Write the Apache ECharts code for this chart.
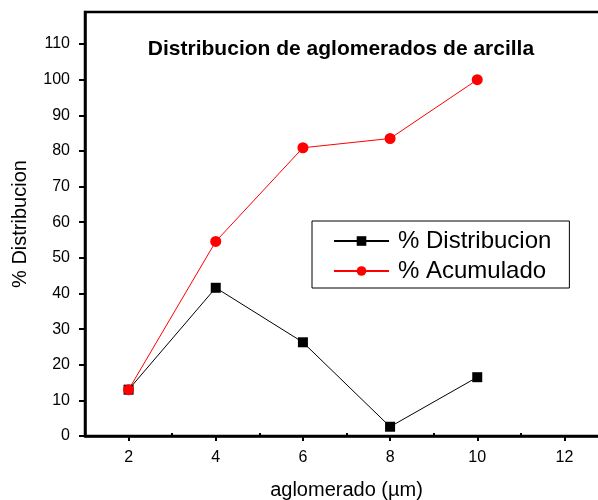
<!DOCTYPE html>
<html>
<head>
<meta charset="utf-8">
<script src="https://cdn.jsdelivr.net/npm/echarts@6/dist/echarts.min.js"></script>
<style>
  html, body { margin: 0; padding: 0; background: #fff; }
  #chart { width: 598px; height: 500px; }
</style>
</head>
<body>
<div id="chart"></div>
<script>
// Agglomerate size (µm) and the two measured series
const sizes = [2, 4, 6, 8, 10];
const distribucion = [13, 41.6, 26.3, 2.6, 16.5];
const acumulado = [13, 54.6, 80.9, 83.5, 100];

// Tick positions for both axes
const xMajorTicks = [2, 4, 6, 8, 10, 12];
const xMinorTicks = [3, 5, 7, 9, 11];
const yMajorTicks = [0, 10, 20, 30, 40, 50, 60, 70, 80, 90, 100, 110];
const yMinorTicks = [5, 15, 25, 35, 45, 55, 65, 75, 85, 95, 105, 115];

const FONT = 'Liberation Sans, Arial, sans-serif';
const chart = echarts.init(document.getElementById('chart'), null, { renderer: 'canvas' });

const baseX = {
  type: 'value', min: 1, max: 13, gridIndex: 0,
  splitLine: { show: false }
};
const baseY = {
  type: 'value', min: 0, max: 119, gridIndex: 0,
  splitLine: { show: false }
};

chart.setOption({
  animation: false,
  backgroundColor: '#fff',
  title: {
    text: 'Distribucion de aglomerados de arcilla',
    left: 336, top: 34, textAlign: 'center',
    textStyle: { fontFamily: FONT, fontSize: 21, fontWeight: 'bold', color: '#000' }
  },
  grid: {
    left: 85, top: 12, right: -10, bottom: 64,
    outerBoundsMode: 'none',
    containLabel: false,
    show: true, borderColor: '#000', borderWidth: 2.5, backgroundColor: 'transparent'
  },
  legend: {
    orient: 'vertical', left: 312, top: 221,
    borderColor: '#000', borderWidth: 1,
    padding: [8, 18, 5, 21],
    itemWidth: 55, itemHeight: 12, itemGap: 6,
    textStyle: { fontFamily: FONT, fontSize: 24, color: '#000', padding: [0, 0, 0, 4] },
    data: ['% Distribucion', '% Acumulado']
  },
  xAxis: [
    Object.assign({}, baseX, {
      name: 'aglomerado (µm)', nameLocation: 'middle', nameGap: 44,
      nameTextStyle: { fontFamily: FONT, fontSize: 20, color: '#000' },
      axisLine: { show: true, lineStyle: { color: '#000', width: 2.5 } },
      axisTick: { show: true, inside: false, length: 5, customValues: xMajorTicks,
                  lineStyle: { color: '#000', width: 2 } },
      axisLabel: { customValues: xMajorTicks, margin: 14,
                   fontFamily: FONT, fontSize: 16, color: '#000' }
    }),
    Object.assign({}, baseX, {
      axisLine: { show: false },
      axisTick: { show: true, inside: false, length: 3, customValues: xMinorTicks,
                  lineStyle: { color: '#000', width: 2 } },
      axisLabel: { show: false }
    })
  ],
  yAxis: [
    Object.assign({}, baseY, {
      name: '% Distribucion', nameLocation: 'middle', nameGap: 55, nameRotate: 90,
      nameTextStyle: { fontFamily: FONT, fontSize: 20, color: '#000' },
      axisLine: { show: true, lineStyle: { color: '#000', width: 2.5 } },
      axisTick: { show: true, inside: false, length: 6, customValues: yMajorTicks,
                  lineStyle: { color: '#000', width: 2 } },
      axisLabel: { customValues: yMajorTicks, margin: 15,
                   fontFamily: FONT, fontSize: 16, color: '#000' }
    }),
    Object.assign({}, baseY, {
      axisLine: { show: false },
      axisTick: { show: true, inside: false, length: 3, customValues: yMinorTicks,
                  lineStyle: { color: '#000', width: 2 } },
      axisLabel: { show: false }
    })
  ],
  series: [
    {
      name: '% Distribucion', type: 'line',
      xAxisIndex: 0, yAxisIndex: 0,
      data: sizes.map((s, i) => [s, distribucion[i]]),
      symbol: 'rect', symbolSize: 10,
      lineStyle: { color: '#000', width: 1 },
      itemStyle: { color: '#000' }
    },
    {
      name: '% Acumulado', type: 'line',
      xAxisIndex: 0, yAxisIndex: 0,
      data: sizes.map((s, i) => [s, acumulado[i]]),
      symbol: 'circle', symbolSize: 11,
      lineStyle: { color: '#ff0000', width: 1 },
      itemStyle: { color: '#ff0000' }
    }
  ]
});
</script>
</body>
</html>
